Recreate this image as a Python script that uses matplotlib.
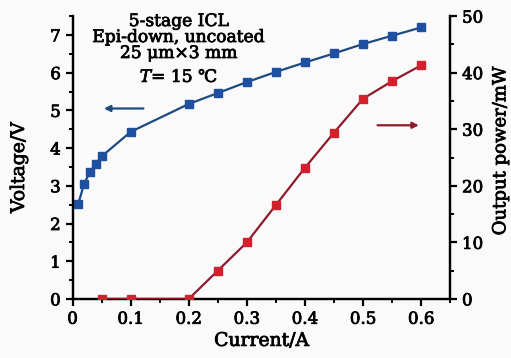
import matplotlib
matplotlib.use("Agg")
import matplotlib.pyplot as plt
import matplotlib.patheffects as pe
from matplotlib.ticker import MultipleLocator

plt.rcParams['font.family'] = ['DejaVu Serif', 'DejaVu Sans']
plt.rcParams['mathtext.fontset'] = 'dejavuserif'

current_v = [0.01, 0.02, 0.03, 0.04, 0.05, 0.10, 0.20, 0.25, 0.30, 0.35, 0.40, 0.45, 0.50, 0.55, 0.60]
voltage = [2.53, 3.06, 3.37, 3.58, 3.78, 4.43, 5.17, 5.46, 5.75, 6.02, 6.27, 6.51, 6.76, 6.98, 7.20]

current_p = [0.05, 0.10, 0.20, 0.25, 0.30, 0.35, 0.40, 0.45, 0.50, 0.55, 0.60]
power = [0.0, 0.0, 0.0, 5.0, 10.0, 16.6, 23.2, 29.4, 35.4, 38.5, 41.3]

x_ticks = [0, 0.1, 0.2, 0.3, 0.4, 0.5, 0.6]
x_labels = ['0', '0.1', '0.2', '0.3', '0.4', '0.5', '0.6']

blue_line = '#1d4a80'
blue_mark = '#1f4fa0'
red_line = '#8e1b2c'
red_mark = '#d2202c'

W, H = 511, 358
fig = plt.figure(figsize=(W / 100, H / 100), dpi=100, facecolor='#fafafa')
ax = fig.add_axes([0.142, 0.165, 0.739, 0.79])
ax.set_facecolor('#fafafa')
ax2 = ax.twinx()

ax.plot(current_v, voltage, color=blue_line, lw=1.6, marker='s', ms=6.2,
        mfc=blue_mark, mec=blue_mark, zorder=3)
ax2.plot(current_p, power, color=red_line, lw=1.6, marker='s', ms=6.2,
         mfc=red_mark, mec=red_mark, zorder=3)

ax.set_xlim(0, 0.65)
ax.set_ylim(0, 7.5)
ax2.set_ylim(0, 50)

ax.set_xticks(x_ticks)
ax.set_xticklabels(x_labels)
ax.xaxis.set_minor_locator(MultipleLocator(0.05))
ax.yaxis.set_major_locator(MultipleLocator(1))
ax.yaxis.set_minor_locator(MultipleLocator(0.5))
ax2.yaxis.set_major_locator(MultipleLocator(10))
ax2.yaxis.set_minor_locator(MultipleLocator(5))

for a in (ax, ax2):
    a.spines['top'].set_visible(False)
    for s in a.spines.values():
        s.set_linewidth(1.6)
    a.tick_params(which='major', direction='out', length=5, width=1.6, labelsize=12)
    a.tick_params(which='minor', direction='out', length=3, width=1.4)

ax.set_xlabel('Current/A', fontsize=13.5, labelpad=3)
ax.set_ylabel('Voltage/V', fontsize=13.5)
ax2.set_ylabel('Output power/mW', fontsize=13)
ax.yaxis.set_label_coords(-0.118, 0.463)
ax2.yaxis.set_label_coords(1.109, 0.523)

texts = []
tx = 179 / W
for txt, ypx in [('5-stage ICL', 13), ('Epi-down, uncoated', 29),
                 ('25 μm×3 mm', 45), ('$T$= 15 ℃', 69)]:
    texts.append(fig.text(tx, 1 - ypx / H, txt, ha='center', va='top', fontsize=12.3))

ax.annotate('', xy=(0.054, 5.05), xytext=(0.122, 5.05),
            arrowprops=dict(arrowstyle='-|>', color=blue_line, lw=1.6,
                            mutation_scale=9, shrinkA=0, shrinkB=0))
ax2.annotate('', xy=(0.596, 30.7), xytext=(0.525, 30.7),
             arrowprops=dict(arrowstyle='-|>', color=red_line, lw=1.6,
                             mutation_scale=9, shrinkA=0, shrinkB=0))

effect = [pe.withStroke(linewidth=0.55, foreground='black')]
texts += [ax.xaxis.label, ax.yaxis.label, ax2.yaxis.label]
texts += ax.get_xticklabels() + ax.get_yticklabels() + ax2.get_yticklabels()
for t in texts:
    t.set_path_effects(effect)

fig.savefig('out.png', dpi=100, facecolor=fig.get_facecolor())
